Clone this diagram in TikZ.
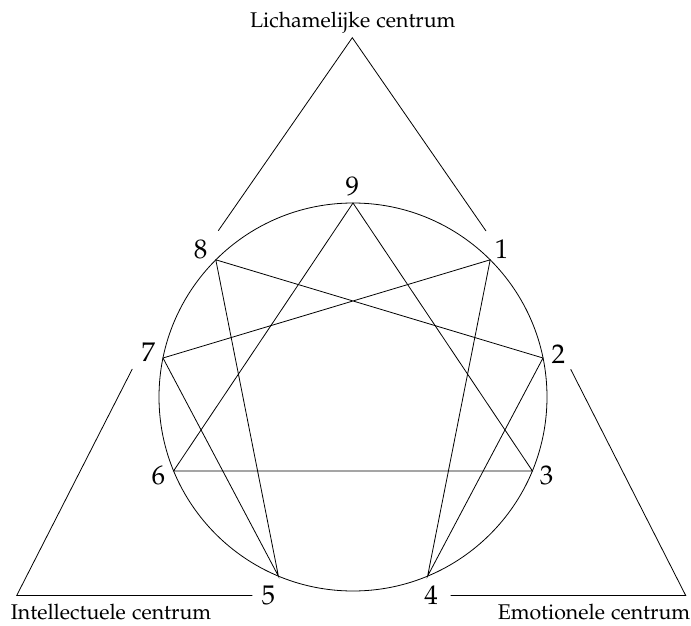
\documentclass[tikz,border=0pt]{standalone}
\usepackage[T1]{fontenc}
\usepackage{mathpazo}
\tikzset{
  digit/.style={font=\fontfamily{pplx}\fontsize{27}{30}\selectfont, inner sep=0pt},
  centre/.style={font=\fontfamily{pplx}\fontsize{21.3}{25}\selectfont, inner sep=0pt, anchor=base},
  edge/.style={draw=black, line width=0.8pt},
}
\begin{document}
\begin{tikzpicture}[x=1pt,y=-1pt]
\useasboundingbox (0,0) rectangle (691,626);
% circle
\coordinate (c) at (353,397);
\draw[edge] (c) circle[radius=194];
% points on circle
\coordinate (p9) at (353,203);
\coordinate (p1) at (490.2,259.8);
\coordinate (p2) at (543.0,358.0);
\coordinate (p3) at (532.4,470.9);
\coordinate (p4) at (427.6,576.1);
\coordinate (p5) at (278.4,576.1);
\coordinate (p6) at (173.6,470.9);
\coordinate (p7) at (163.0,358.0);
\coordinate (p8) at (215.8,259.8);
% inner triangle
\draw[edge] (p9) -- (p3) -- (p6) -- cycle;
% hexad
\draw[edge] (p1) -- (p4) -- (p2) -- (p8) -- (p5) -- (p7) -- cycle;
% digit labels
\node[digit] (l9) at (352.3,186.7) {9};
\node[digit] (l8) at (200.7,249.3) {8};
\node[digit] (l1) at (501.7,249.3) {1};
\node[digit] (l7) at (148.3,352.3) {7};
\node[digit] (l2) at (558.3,354.3) {2};
\node[digit] (l6) at (158.3,475) {6};
\node[digit] (l3) at (546.7,475) {3};
\node[digit] (l5) at (268.3,595) {5};
\node[digit] (l4) at (431,595) {4};
% centre corners
\coordinate (ta) at (352.3,37.7);
\coordinate (t8) at (218.3,230.7);
\coordinate (t1) at (486,231);
\draw[edge] (t8) -- (ta) -- (t1);
\coordinate (la) at (16.7,595.5);
\coordinate (l7e) at (132.3,369);
\coordinate (l5e) at (252.3,595.5);
\draw[edge] (l7e) -- (la) -- (l5e);
\coordinate (ra) at (685.7,595.5);
\coordinate (r2e) at (570.7,369.3);
\coordinate (r4e) at (450.7,595.5);
\draw[edge] (r2e) -- (ra) -- (r4e);
% centre labels
\node[centre] (top) at (352.8,27.3) {Lichamelijke centrum};
\node[centre] (left) at (111,619.3) {Intellectuele centrum};
\node[centre] (right) at (594,619.3) {Emotionele centrum};
\end{tikzpicture}
\end{document}
